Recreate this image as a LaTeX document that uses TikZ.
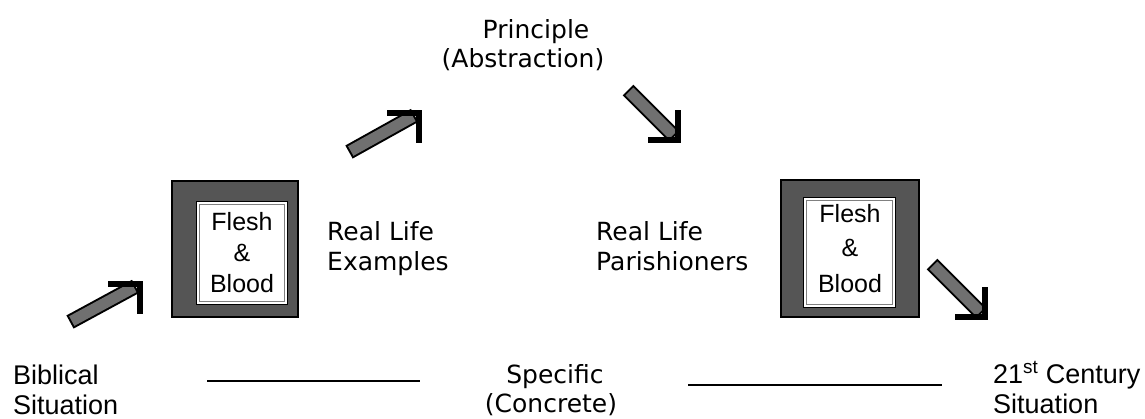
\documentclass[tikz,border=0pt]{standalone}
\usepackage{fontspec}
\setmainfont{Liberation Sans}
\newfontfamily\verd{DejaVu Sans}
\usetikzlibrary{calc}
\definecolor{boxgray}{HTML}{555555}
\definecolor{shaftgray}{HTML}{707070}
\begin{document}
\begin{tikzpicture}[x=1pt,y=-1pt,
  vtext/.style={font=\verd\fontsize{25}{29}\selectfont, inner sep=0pt},
  atext/.style={font=\fontsize{27}{32}\selectfont, inner sep=0pt},
  fbtext/.style={font=\fontsize{25}{30}\selectfont, inner sep=0pt},
  outerbox/.style={draw=black, line width=2pt, fill=boxgray},
  innerbox/.style={draw=black, line width=1pt, fill=white},
  innerline/.style={draw=gray, line width=0.8pt},
  rule/.style={draw=black, line width=1.3pt},
  shaftout/.style={draw=black, line width=15pt},
  shaftin/.style={draw=shaftgray, line width=11pt},
  headbar/.style={draw=black, line width=6pt, line join=miter}
]
\useasboundingbox (0,0) rectangle (1145,418);

% texts
\node[vtext, anchor=base] (pr) at (536,38) {Principle};
\node[vtext, anchor=base] (ab) at (523,67) {(Abstraction)};
\node[vtext, anchor=base west] (rl1) at (327,240) {Real Life};
\node[vtext, anchor=base west] (ex) at (327,270) {Examples};
\node[vtext, anchor=base west] (rl2) at (596,240) {Real Life};
\node[vtext, anchor=base west] (pa) at (596,270) {Parishioners};
\node[vtext, anchor=base] (sp) at (555,383) {Specific};
\node[vtext, anchor=base] (co) at (551,412) {(Concrete)};
\node[atext, anchor=base west] (bi) at (13,384) {Biblical};
\node[atext, anchor=base west] (si1) at (13,414) {Situation};
\node[atext, anchor=base west] (cen) at (993,383) {21\textsuperscript{st} Century};
\node[atext, anchor=base west] (si2) at (993,413) {Situation};

% rules
\coordinate (l1a) at (207,381); \coordinate (l1b) at (420,381);
\coordinate (l2a) at (688,385); \coordinate (l2b) at (942,385);
\draw[rule] (l1a) -- (l1b);
\draw[rule] (l2a) -- (l2b);

% boxes
\draw[outerbox] (172,181) rectangle (298,317);
\draw[innerbox] (196,201) rectangle (287,304);
\draw[innerline] (199,204) rectangle (284,301);
\node[fbtext] (f1) at (242,222) {Flesh};
\node[fbtext] (a1) at (242,253) {\&};
\node[fbtext] (b1) at (242,284) {Blood};

\draw[outerbox] (781,180) rectangle (919,317);
\draw[innerbox] (803,197) rectangle (895,307);
\draw[innerline] (806,200) rectangle (892,304);
\node[fbtext] (f2) at (850,214) {Flesh};
\node[fbtext] (a2) at (850,248) {\&};
\node[fbtext] (b2) at (850,284) {Blood};

% arrows
\coordinate (t1) at (70,322);  \coordinate (h1) at (140,284);
\coordinate (t2) at (349,152); \coordinate (h2) at (419,113);
\coordinate (t3) at (628,90);  \coordinate (h3) at (678,140);
\coordinate (t4) at (932,264); \coordinate (h4) at (985,317);

\foreach \t/\h in {t1/h1, t2/h2} {
  \draw[shaftout] (\t) -- ($(\h)!5pt!(\t)$);
  \draw[shaftin, shorten <=2pt] (\t) -- ($(\h)!7pt!(\t)$);
  \draw[headbar] ($(\h)+(-32,0)$) -- (\h) -- ($(\h)+(0,30)$);
}
\foreach \t/\h in {t3/h3, t4/h4} {
  \draw[shaftout] (\t) -- ($(\h)!5pt!(\t)$);
  \draw[shaftin, shorten <=2pt] (\t) -- ($(\h)!7pt!(\t)$);
  \draw[headbar] ($(\h)+(-30,0)$) -- (\h) -- ($(\h)+(0,-30)$);
}
\end{tikzpicture}
\end{document}
